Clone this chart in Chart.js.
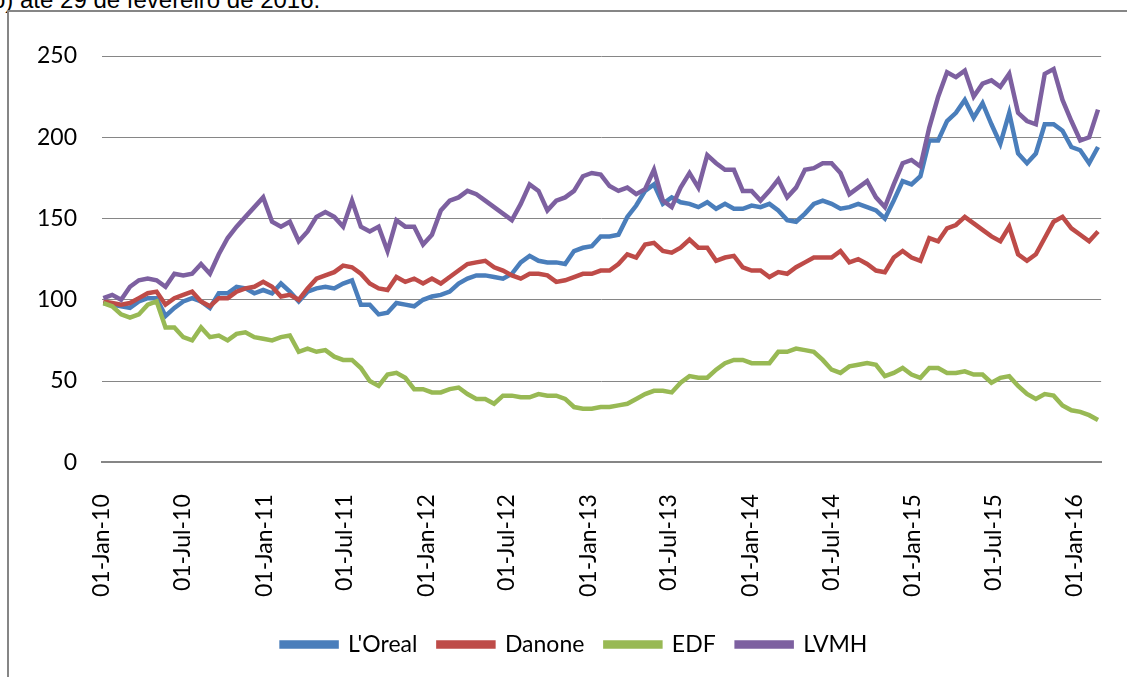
<!DOCTYPE html>
<html>
<head>
<meta charset="utf-8">
<script src="https://cdn.jsdelivr.net/npm/chart.js@4.4.1/dist/chart.umd.min.js"></script>
<style>
  html, body { margin: 0; padding: 0; background: #fff; overflow: hidden; }
  #wrap { position: relative; width: 1127px; height: 677px; overflow: hidden; }
  #caption { position: absolute; left: -8px; top: -12px; font: 24px "Liberation Sans", Arial, sans-serif; line-height: 24px; color: #000; white-space: nowrap; }
  #frame { position: absolute; left: 7px; top: 10px; width: 1300px; height: 900px; border: 2px solid #868686; }
  canvas { position: absolute; left: 0; top: 0; }
</style>
</head>
<body>
<div id="wrap">
  <div id="caption">o) até 29 de fevereiro de 2016.</div>
  <div id="frame"></div>
  <canvas id="chart" width="1127" height="677"></canvas>
</div>
<script>
const seriesNames = ["L'Oreal", 'Danone', 'EDF', 'LVMH'];
const seriesColors = ['#4a7ebb', '#be4b48', '#98b954', '#7d60a0'];

// x axis: days since 01-Jan-10
const tickDays = [0, 181, 365, 546, 730, 912, 1096, 1277, 1461, 1642, 1826, 2007, 2191];
const tickLabels = ['01-Jan-10', '01-Jul-10', '01-Jan-11', '01-Jul-11', '01-Jan-12', '01-Jul-12',
  '01-Jan-13', '01-Jul-13', '01-Jan-14', '01-Jul-14', '01-Jan-15', '01-Jul-15', '01-Jan-16'];
const lastDay = 2250; // 29-Feb-16
const firstDay = 3;   // first quote, 04-Jan-10
const stepDays = 20;  // one reading every 20 days

const loreal = [
  98, 97, 96, 95, 99, 101, 101, 90, 95, 99,
  101, 99, 95, 104, 104, 108, 107, 104, 106, 104,
  110, 105, 99, 105, 107, 108, 107, 110, 112, 97,
  97, 91, 92, 98, 97, 96, 100, 102, 103, 105,
  110, 113, 115, 115, 114, 113, 116, 123, 127, 124,
  123, 123, 122, 130, 132, 133, 139, 139, 140, 151,
  158, 167, 171, 159, 163, 160, 159, 157, 160, 156,
  159, 156, 156, 158, 157, 159, 155, 149, 148, 153,
  159, 161, 159, 156, 157, 159, 157, 155, 150, 161,
  173, 171, 176, 198, 198, 210, 215, 223, 212, 221,
  208, 196, 215, 190, 184, 190, 208, 208, 204, 194,
  192, 184, 194
];
const danone = [
  99, 98, 97, 98, 101, 104, 105, 97, 101, 103,
  105, 99, 96, 101, 101, 105, 107, 108, 111, 108,
  102, 103, 100, 107, 113, 115, 117, 121, 120, 116,
  110, 107, 106, 114, 111, 113, 110, 113, 110, 114,
  118, 122, 123, 124, 120, 118, 115, 113, 116, 116,
  115, 111, 112, 114, 116, 116, 118, 118, 122, 128,
  126, 134, 135, 130, 129, 132, 137, 132, 132, 124,
  126, 127, 120, 118, 118, 114, 117, 116, 120, 123,
  126, 126, 126, 130, 123, 125, 122, 118, 117, 126,
  130, 126, 124, 138, 136, 144, 146, 151, 147, 143,
  139, 136, 145, 128, 124, 128, 138, 148, 151, 144,
  140, 136, 142
];
const edf = [
  98, 96, 91, 89, 91, 97, 99, 83, 83, 77,
  75, 83, 77, 78, 75, 79, 80, 77, 76, 75,
  77, 78, 68, 70, 68, 69, 65, 63, 63, 58,
  50, 47, 54, 55, 52, 45, 45, 43, 43, 45,
  46, 42, 39, 39, 36, 41, 41, 40, 40, 42,
  41, 41, 39, 34, 33, 33, 34, 34, 35, 36,
  39, 42, 44, 44, 43, 49, 53, 52, 52, 57,
  61, 63, 63, 61, 61, 61, 68, 68, 70, 69,
  68, 63, 57, 55, 59, 60, 61, 60, 53, 55,
  58, 54, 52, 58, 58, 55, 55, 56, 54, 54,
  49, 52, 53, 47, 42, 39, 42, 41, 35, 32,
  31, 29, 26
];
const lvmh = [
  101, 103, 100, 108, 112, 113, 112, 108, 116, 115,
  116, 122, 116, 128, 138, 145, 151, 157, 163, 148,
  145, 148, 136, 142, 151, 154, 151, 145, 161, 145,
  142, 145, 130, 149, 145, 145, 134, 140, 155, 161,
  163, 167, 165, 161, 157, 153, 149, 159, 171, 167,
  155, 161, 163, 167, 176, 178, 177, 170, 167, 169,
  165, 168, 180, 161, 157, 169, 178, 169, 189, 184,
  180, 180, 167, 167, 161, 167, 174, 163, 169, 180,
  181, 184, 184, 178, 165, 169, 173, 163, 157, 171,
  184, 186, 182, 206, 225, 240, 237, 241, 225, 233,
  235, 231, 239, 215, 210, 208, 239, 242, 223, 210,
  198, 200, 217
];
const allSeries = [loreal, danone, edf, lvmh];

const tickFont = { family: 'Lato', size: 23 };
const legendShift = { x: 15, y: -9 };

// Excel-like legend placement
const moveLegend = {
  id: 'moveLegend',
  afterLayout(chart) {
    const lg = chart.legend;
    lg.left += legendShift.x;
    lg.right += legendShift.x;
    lg.top += legendShift.y;
    lg.bottom += legendShift.y;
  }
};

new Chart(document.getElementById('chart').getContext('2d'), {
  type: 'line',
  data: {
    datasets: allSeries.map((vals, k) => ({
      label: seriesNames[k],
      data: vals.map((v, i) => ({ x: firstDay + i * stepDays, y: v })),
      borderColor: seriesColors[k],
      backgroundColor: seriesColors[k],
      borderWidth: 4.5,
      pointRadius: 0,
      tension: 0,
      order: 4 - k // LVMH drawn on top
    }))
  },
  options: {
    responsive: false,
    animation: false,
    layout: { padding: { left: 10, right: 18, top: 56, bottom: 2 } },
    plugins: {
      tooltip: { enabled: false },
      legend: {
        position: 'bottom',
        labels: {
          boxWidth: 55,
          boxHeight: 4,
          padding: 21,
          color: '#000',
          font: tickFont,
          sort: (a, b) => a.datasetIndex - b.datasetIndex
        }
      }
    },
    scales: {
      x: {
        type: 'linear',
        min: 0,
        max: lastDay,
        grid: { display: false },
        border: { display: true, color: '#868686', width: 2 },
        afterBuildTicks: s => { s.ticks = tickDays.map(v => ({ value: v })); },
        ticks: {
          autoSkip: false,
          minRotation: 90,
          maxRotation: 90,
          padding: 24,
          color: '#000',
          font: tickFont,
          callback: (v, i) => tickLabels[i]
        }
      },
      y: {
        min: 0,
        max: 250,
        grid: { color: '#868686', drawTicks: false },
        border: { display: false },
        afterFit: s => { s.width = 92; },
        ticks: {
          stepSize: 50,
          padding: 25,
          color: '#000',
          font: tickFont
        }
      }
    }
  },
  plugins: [moveLegend]
});
</script>
</body>
</html>
